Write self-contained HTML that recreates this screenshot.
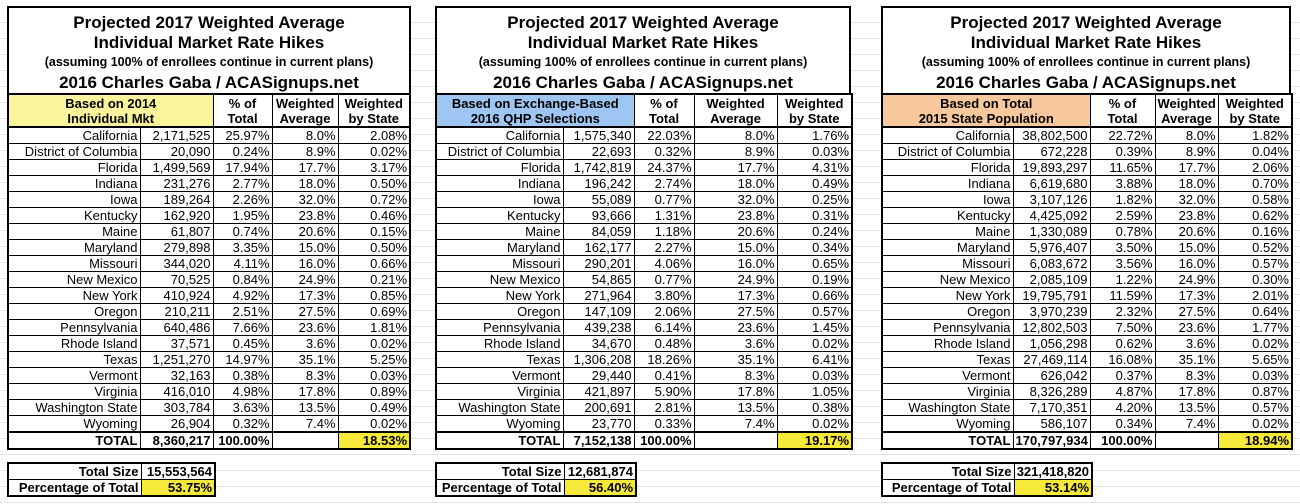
<!DOCTYPE html>
<html><head><meta charset="utf-8"><style>
body{margin:0;width:1300px;height:504px;overflow:hidden;background:#fff;font-family:"Liberation Sans",Arial,sans-serif;position:relative;
background-image:repeating-linear-gradient(to bottom,transparent 0,transparent 15px,#e2e2e2 15px,#e2e2e2 16px);background-position:0 7px}
.p{position:absolute;top:6px}
.tb{border:2px solid #000;border-bottom:none;height:87px;text-align:center;font-weight:bold;background:#fff;box-sizing:border-box}
.t1{font-size:17px;line-height:20px;padding-top:5px}
.t2{font-size:12.5px;line-height:19px}
.t3{font-size:17px;line-height:21px}
table{border-collapse:collapse;table-layout:fixed;background:#fff}
td{border:1px solid #000;font-size:13px;height:15px;line-height:15px;padding:0 2px;text-align:right;white-space:nowrap;overflow:hidden}
tr.h td{height:31px;line-height:15px;font-weight:bold;text-align:center;border-top:2px solid #000;border-bottom:2px solid #000}
tr.tot td{font-weight:bold;border-top:2px solid #000;border-bottom:2px solid #000}
table.m{border:2px solid #000}
td.y{background:#f7e93a}
.s{position:absolute;top:462px}
.s table{border:2px solid #000}
.s td{font-weight:bold}
</style></head><body>

<div class="p" style="left:7px;width:404px">
<div class="tb"><div class="t1">Projected 2017 Weighted Average<br>Individual Market Rate Hikes</div><div class="t2">(assuming 100% of enrollees continue in current plans)</div><div class="t3">2016 Charles Gaba / ACASignups.net</div></div>
<table class="m" style="width:404px"><colgroup><col style="width:132px"><col style="width:73px"><col style="width:59px"><col style="width:66px"><col style="width:72px"></colgroup>
<tr class="h"><td colspan="2" style="background:#fbf49a">Based on 2014<br>Individual Mkt</td><td>% of<br>Total</td><td>Weighted<br>Average</td><td>Weighted<br>by State</td></tr>
<tr><td>California</td><td>2,171,525</td><td>25.97%</td><td>8.0%</td><td>2.08%</td></tr>
<tr><td>District of Columbia</td><td>20,090</td><td>0.24%</td><td>8.9%</td><td>0.02%</td></tr>
<tr><td>Florida</td><td>1,499,569</td><td>17.94%</td><td>17.7%</td><td>3.17%</td></tr>
<tr><td>Indiana</td><td>231,276</td><td>2.77%</td><td>18.0%</td><td>0.50%</td></tr>
<tr><td>Iowa</td><td>189,264</td><td>2.26%</td><td>32.0%</td><td>0.72%</td></tr>
<tr><td>Kentucky</td><td>162,920</td><td>1.95%</td><td>23.8%</td><td>0.46%</td></tr>
<tr><td>Maine</td><td>61,807</td><td>0.74%</td><td>20.6%</td><td>0.15%</td></tr>
<tr><td>Maryland</td><td>279,898</td><td>3.35%</td><td>15.0%</td><td>0.50%</td></tr>
<tr><td>Missouri</td><td>344,020</td><td>4.11%</td><td>16.0%</td><td>0.66%</td></tr>
<tr><td>New Mexico</td><td>70,525</td><td>0.84%</td><td>24.9%</td><td>0.21%</td></tr>
<tr><td>New York</td><td>410,924</td><td>4.92%</td><td>17.3%</td><td>0.85%</td></tr>
<tr><td>Oregon</td><td>210,211</td><td>2.51%</td><td>27.5%</td><td>0.69%</td></tr>
<tr><td>Pennsylvania</td><td>640,486</td><td>7.66%</td><td>23.6%</td><td>1.81%</td></tr>
<tr><td>Rhode Island</td><td>37,571</td><td>0.45%</td><td>3.6%</td><td>0.02%</td></tr>
<tr><td>Texas</td><td>1,251,270</td><td>14.97%</td><td>35.1%</td><td>5.25%</td></tr>
<tr><td>Vermont</td><td>32,163</td><td>0.38%</td><td>8.3%</td><td>0.03%</td></tr>
<tr><td>Virginia</td><td>416,010</td><td>4.98%</td><td>17.8%</td><td>0.89%</td></tr>
<tr><td>Washington State</td><td>303,784</td><td>3.63%</td><td>13.5%</td><td>0.49%</td></tr>
<tr><td>Wyoming</td><td>26,904</td><td>0.32%</td><td>7.4%</td><td>0.02%</td></tr>
<tr class="tot"><td>TOTAL</td><td>8,360,217</td><td>100.00%</td><td></td><td class="y">18.53%</td></tr>
</table></div>
<div class="s" style="left:7px"><table style="width:207px"><colgroup><col style="width:133px"><col style="width:74px"></colgroup>
<tr><td>Total Size</td><td>15,553,564</td></tr><tr><td>Percentage of Total</td><td class="y">53.75%</td></tr></table></div>

<div class="p" style="left:435px;width:416px">
<div class="tb"><div class="t1">Projected 2017 Weighted Average<br>Individual Market Rate Hikes</div><div class="t2">(assuming 100% of enrollees continue in current plans)</div><div class="t3">2016 Charles Gaba / ACASignups.net</div></div>
<table class="m" style="width:416px"><colgroup><col style="width:127px"><col style="width:71px"><col style="width:60px"><col style="width:83px"><col style="width:75px"></colgroup>
<tr class="h"><td colspan="2" style="background:#9fc6f2">Based on Exchange-Based<br>2016 QHP Selections</td><td>% of<br>Total</td><td>Weighted<br>Average</td><td>Weighted<br>by State</td></tr>
<tr><td>California</td><td>1,575,340</td><td>22.03%</td><td>8.0%</td><td>1.76%</td></tr>
<tr><td>District of Columbia</td><td>22,693</td><td>0.32%</td><td>8.9%</td><td>0.03%</td></tr>
<tr><td>Florida</td><td>1,742,819</td><td>24.37%</td><td>17.7%</td><td>4.31%</td></tr>
<tr><td>Indiana</td><td>196,242</td><td>2.74%</td><td>18.0%</td><td>0.49%</td></tr>
<tr><td>Iowa</td><td>55,089</td><td>0.77%</td><td>32.0%</td><td>0.25%</td></tr>
<tr><td>Kentucky</td><td>93,666</td><td>1.31%</td><td>23.8%</td><td>0.31%</td></tr>
<tr><td>Maine</td><td>84,059</td><td>1.18%</td><td>20.6%</td><td>0.24%</td></tr>
<tr><td>Maryland</td><td>162,177</td><td>2.27%</td><td>15.0%</td><td>0.34%</td></tr>
<tr><td>Missouri</td><td>290,201</td><td>4.06%</td><td>16.0%</td><td>0.65%</td></tr>
<tr><td>New Mexico</td><td>54,865</td><td>0.77%</td><td>24.9%</td><td>0.19%</td></tr>
<tr><td>New York</td><td>271,964</td><td>3.80%</td><td>17.3%</td><td>0.66%</td></tr>
<tr><td>Oregon</td><td>147,109</td><td>2.06%</td><td>27.5%</td><td>0.57%</td></tr>
<tr><td>Pennsylvania</td><td>439,238</td><td>6.14%</td><td>23.6%</td><td>1.45%</td></tr>
<tr><td>Rhode Island</td><td>34,670</td><td>0.48%</td><td>3.6%</td><td>0.02%</td></tr>
<tr><td>Texas</td><td>1,306,208</td><td>18.26%</td><td>35.1%</td><td>6.41%</td></tr>
<tr><td>Vermont</td><td>29,440</td><td>0.41%</td><td>8.3%</td><td>0.03%</td></tr>
<tr><td>Virginia</td><td>421,897</td><td>5.90%</td><td>17.8%</td><td>1.05%</td></tr>
<tr><td>Washington State</td><td>200,691</td><td>2.81%</td><td>13.5%</td><td>0.38%</td></tr>
<tr><td>Wyoming</td><td>23,770</td><td>0.33%</td><td>7.4%</td><td>0.02%</td></tr>
<tr class="tot"><td>TOTAL</td><td>7,152,138</td><td>100.00%</td><td></td><td class="y">19.17%</td></tr>
</table></div>
<div class="s" style="left:435px"><table style="width:200px"><colgroup><col style="width:128px"><col style="width:72px"></colgroup>
<tr><td>Total Size</td><td>12,681,874</td></tr><tr><td>Percentage of Total</td><td class="y">56.40%</td></tr></table></div>

<div class="p" style="left:881px;width:410px">
<div class="tb"><div class="t1">Projected 2017 Weighted Average<br>Individual Market Rate Hikes</div><div class="t2">(assuming 100% of enrollees continue in current plans)</div><div class="t3">2016 Charles Gaba / ACASignups.net</div></div>
<table class="m" style="width:410px"><colgroup><col style="width:131px"><col style="width:77px"><col style="width:65px"><col style="width:63px"><col style="width:74px"></colgroup>
<tr class="h"><td colspan="2" style="background:#f8c89c">Based on Total<br>2015 State Population</td><td>% of<br>Total</td><td>Weighted<br>Average</td><td>Weighted<br>by State</td></tr>
<tr><td>California</td><td>38,802,500</td><td>22.72%</td><td>8.0%</td><td>1.82%</td></tr>
<tr><td>District of Columbia</td><td>672,228</td><td>0.39%</td><td>8.9%</td><td>0.04%</td></tr>
<tr><td>Florida</td><td>19,893,297</td><td>11.65%</td><td>17.7%</td><td>2.06%</td></tr>
<tr><td>Indiana</td><td>6,619,680</td><td>3.88%</td><td>18.0%</td><td>0.70%</td></tr>
<tr><td>Iowa</td><td>3,107,126</td><td>1.82%</td><td>32.0%</td><td>0.58%</td></tr>
<tr><td>Kentucky</td><td>4,425,092</td><td>2.59%</td><td>23.8%</td><td>0.62%</td></tr>
<tr><td>Maine</td><td>1,330,089</td><td>0.78%</td><td>20.6%</td><td>0.16%</td></tr>
<tr><td>Maryland</td><td>5,976,407</td><td>3.50%</td><td>15.0%</td><td>0.52%</td></tr>
<tr><td>Missouri</td><td>6,083,672</td><td>3.56%</td><td>16.0%</td><td>0.57%</td></tr>
<tr><td>New Mexico</td><td>2,085,109</td><td>1.22%</td><td>24.9%</td><td>0.30%</td></tr>
<tr><td>New York</td><td>19,795,791</td><td>11.59%</td><td>17.3%</td><td>2.01%</td></tr>
<tr><td>Oregon</td><td>3,970,239</td><td>2.32%</td><td>27.5%</td><td>0.64%</td></tr>
<tr><td>Pennsylvania</td><td>12,802,503</td><td>7.50%</td><td>23.6%</td><td>1.77%</td></tr>
<tr><td>Rhode Island</td><td>1,056,298</td><td>0.62%</td><td>3.6%</td><td>0.02%</td></tr>
<tr><td>Texas</td><td>27,469,114</td><td>16.08%</td><td>35.1%</td><td>5.65%</td></tr>
<tr><td>Vermont</td><td>626,042</td><td>0.37%</td><td>8.3%</td><td>0.03%</td></tr>
<tr><td>Virginia</td><td>8,326,289</td><td>4.87%</td><td>17.8%</td><td>0.87%</td></tr>
<tr><td>Washington State</td><td>7,170,351</td><td>4.20%</td><td>13.5%</td><td>0.57%</td></tr>
<tr><td>Wyoming</td><td>586,107</td><td>0.34%</td><td>7.4%</td><td>0.02%</td></tr>
<tr class="tot"><td>TOTAL</td><td>170,797,934</td><td>100.00%</td><td></td><td class="y">18.94%</td></tr>
</table></div>
<div class="s" style="left:881px"><table style="width:210px"><colgroup><col style="width:132px"><col style="width:78px"></colgroup>
<tr><td>Total Size</td><td>321,418,820</td></tr><tr><td>Percentage of Total</td><td class="y">53.14%</td></tr></table></div>

</body></html>
